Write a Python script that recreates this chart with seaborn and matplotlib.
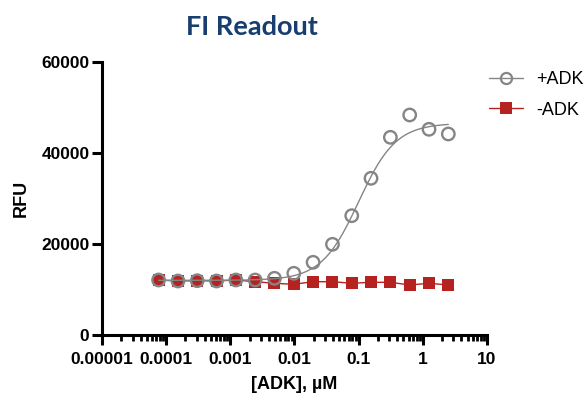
import numpy as np
import pandas as pd
import matplotlib
matplotlib.use("Agg")
import matplotlib.pyplot as plt
from matplotlib.lines import Line2D
from matplotlib.ticker import LogLocator, NullFormatter
import seaborn as sns

# 2-fold dilution series, uM
conc = [7.63e-5, 1.53e-4, 3.05e-4, 6.1e-4, 1.22e-3, 2.44e-3, 4.88e-3, 9.77e-3,
        0.0195, 0.0391, 0.0781, 0.156, 0.3125, 0.625, 1.25, 2.5]
plus_adk = [12075, 11855, 11920, 11855, 12075, 12075, 12450, 13545,
            15960, 19910, 26190, 34400, 43400, 48300, 45160, 44130]
minus_adk = [12075, 11855, 11920, 11855, 12075, 11700, 11350, 11130,
             11700, 11700, 11350, 11570, 11570, 10980, 11350, 10980]

# 4PL fit params for +ADK
fit_bottom = 12000
fit_top = 46500
fit_ec50 = 0.1
fit_hill = 1.5

xticks = [1e-5, 1e-4, 1e-3, 1e-2, 1e-1, 1, 10]
xticklabels = ["0.00001", "0.0001", "0.001", "0.01", "0.1", "1", "10"]
yticks = [0, 20000, 40000, 60000]

gray = "#858585"
red = "#B52220"

df = pd.DataFrame({"conc": conc, "plus": plus_adk, "minus": minus_adk})
xfit = np.logspace(np.log10(conc[0]), np.log10(conc[-1]), 300)
yfit = fit_bottom + (fit_top - fit_bottom) / (1 + (fit_ec50 / xfit) ** fit_hill)

sns.set_style("ticks")
plt.rcParams["font.family"] = ["Liberation Sans", "DejaVu Sans"]
plt.rcParams["text.color"] = "black"
plt.rcParams["axes.labelcolor"] = "black"
plt.rcParams["xtick.color"] = "black"
plt.rcParams["ytick.color"] = "black"
plt.rcParams["axes.edgecolor"] = "black"

fig = plt.figure(figsize=(5.86, 4.04), dpi=100)
ax = fig.add_axes([0.174, 0.1708, 0.657, 0.6765])

# -ADK: squares joined by a thin line
sns.lineplot(data=df, x="conc", y="minus", ax=ax, color=red, lw=1.0,
             marker="s", markersize=8.5, markeredgewidth=0, zorder=3)
# +ADK: fitted curve + open circles
sns.lineplot(x=xfit, y=yfit, ax=ax, color=gray, lw=1.0, zorder=4)
sns.scatterplot(data=df, x="conc", y="plus", ax=ax, marker="o", s=80,
                facecolor="none", edgecolor=gray, linewidth=1.7, zorder=5)

ax.set_xscale("log")
ax.set_xlim(1e-5, 10)
ax.set_ylim(0, 60000)
ax.set_xticks(xticks)
ax.set_xticklabels(xticklabels)
ax.xaxis.set_minor_locator(LogLocator(base=10, subs=np.arange(2, 10), numticks=20))
ax.xaxis.set_minor_formatter(NullFormatter())
ax.set_yticks(yticks)

for s in ["top", "right"]:
    ax.spines[s].set_visible(False)
for s in ["left", "bottom"]:
    ax.spines[s].set_linewidth(2.2)
ax.tick_params(axis="both", which="major", width=2.2, length=7, labelsize=12.5, pad=2)
ax.tick_params(axis="x", which="major", pad=5)
ax.tick_params(axis="x", which="minor", width=2.0, length=4)
for lab in ax.get_xticklabels() + ax.get_yticklabels():
    lab.set_fontweight("bold")

ax.set_xlabel("[ADK], \u00b5M", fontsize=13, fontweight="bold", labelpad=7)
ax.set_ylabel("RFU", fontsize=13, fontweight="bold", labelpad=8)

fig.text(0.43, 0.933, "FI Readout", ha="center", va="center", fontsize=19.5,
         fontweight="bold", color="#173E6E", family=["Lato", "DejaVu Sans"])

handles = [
    Line2D([], [], color=gray, lw=1.0, marker="o", markersize=8,
           markerfacecolor="none", markeredgecolor=gray, markeredgewidth=1.6),
    Line2D([], [], color=red, lw=1.0, marker="s", markersize=8,
           markeredgewidth=0),
]
ax.legend(handles, ["+ADK", "-ADK"], loc="upper left",
          bbox_to_anchor=(0.834, 0.824), bbox_transform=fig.transFigure,
          frameon=False, fontsize=13, handlelength=1.9, handletextpad=0.75,
          labelspacing=0.75, borderaxespad=0, borderpad=0)

fig.savefig("out.png", dpi=100)
